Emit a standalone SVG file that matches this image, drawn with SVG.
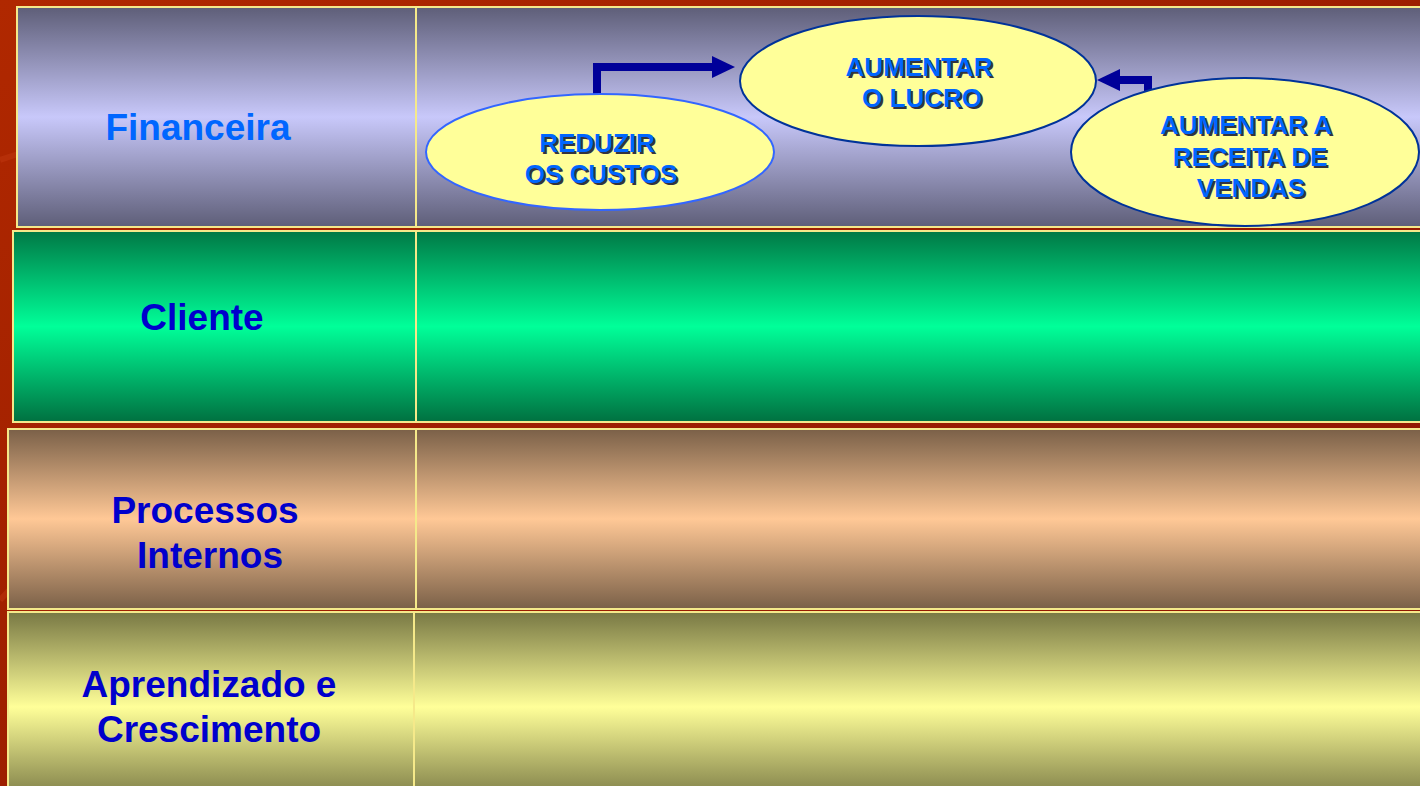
<svg xmlns="http://www.w3.org/2000/svg" width="1420" height="786" viewBox="0 0 1420 786">
<defs>
<linearGradient id="bg" x1="0" y1="0" x2="1" y2="1">
<stop offset="0" stop-color="#b02800"/><stop offset="1" stop-color="#8a1400"/>
</linearGradient>
<linearGradient id="g1" x1="0" y1="0" x2="0" y2="1">
<stop offset="0" stop-color="#5e5e78"/><stop offset="0.5" stop-color="#c8c8fa"/><stop offset="1" stop-color="#5e5e78"/>
</linearGradient>
<linearGradient id="g2" x1="0" y1="0" x2="0" y2="1">
<stop offset="0" stop-color="#007845"/><stop offset="0.5" stop-color="#00ff99"/><stop offset="1" stop-color="#007040"/>
</linearGradient>
<linearGradient id="g3" x1="0" y1="0" x2="0" y2="1">
<stop offset="0" stop-color="#7a6048"/><stop offset="0.5" stop-color="#ffc896"/><stop offset="1" stop-color="#7a6048"/>
</linearGradient>
<linearGradient id="g4" x1="0" y1="0" x2="0" y2="1">
<stop offset="0" stop-color="#787844"/><stop offset="0.5" stop-color="#ffff99"/><stop offset="1" stop-color="#787844"/>
</linearGradient>
</defs>
<style>
.cell{stroke:#f5e98a;stroke-width:2}
.lbl{font-family:"Liberation Sans",Arial,sans-serif;font-weight:bold;font-size:37px;fill:#0000cc;text-anchor:middle}
.fin{fill:#0066ff}
.ell{fill:#ffff99;stroke-width:2}
.et{font-family:"Liberation Sans",Arial,sans-serif;font-weight:bold;font-size:26px;fill:#0066ff;text-anchor:middle}
.sh{fill:#101030;opacity:0.85}
.conn{fill:none;stroke:#000099;stroke-width:8}
</style>
<rect x="0" y="0" width="1420" height="786" fill="url(#bg)"/>
<path d="M0,160 C60,140 120,120 200,100" stroke="#c03810" stroke-width="6" fill="none" opacity="0.5"/>
<path d="M0,600 C40,560 60,520 120,500" stroke="#c03810" stroke-width="6" fill="none" opacity="0.5"/>

<g id="row-financeira">
<rect class="cell" x="17" y="7" width="1410" height="220" fill="url(#g1)"/>
<line class="cell" x1="416" y1="7" x2="416" y2="227"/>
<text class="lbl fin" x="198" y="140">Financeira</text>
</g>
<g id="row-cliente">
<rect class="cell" x="13" y="231" width="1414" height="191" fill="url(#g2)"/>
<line class="cell" x1="416" y1="231" x2="416" y2="422"/>
<text class="lbl" x="202" y="330">Cliente</text>
</g>
<g id="row-processos">
<rect class="cell" x="8" y="429" width="1419" height="180" fill="url(#g3)"/>
<line class="cell" x1="416" y1="429" x2="416" y2="609"/>
<text class="lbl" x="205" y="523">Processos</text>
<text class="lbl" x="210" y="568">Internos</text>
</g>
<g id="row-aprendizado">
<rect class="cell" x="8" y="612" width="1419" height="190" fill="url(#g4)"/>
<line class="cell" x1="414" y1="612" x2="414" y2="786"/>
<text class="lbl" x="209" y="697">Aprendizado e</text>
<text class="lbl" x="209" y="742">Crescimento</text>
</g>

<g id="connectors">
<path class="conn" d="M597,96 V67 H718" />
<path d="M712,56 L735,67 L712,78 Z" fill="#000099"/>
<path class="conn" d="M1148,92 V80 H1118" />
<path d="M1120,69 L1097,80 L1120,91 Z" fill="#000099"/>
</g>

<g id="node-reduzir">
<ellipse class="ell" cx="600" cy="152" rx="174" ry="58" stroke="#3366ff"/>
<text class="et sh" x="599" y="154">REDUZIR</text>
<text class="et" x="597" y="152">REDUZIR</text>
<text class="et sh" x="603" y="185">OS CUSTOS</text>
<text class="et" x="601" y="183">OS CUSTOS</text>
</g>
<g id="node-lucro">
<ellipse class="ell" cx="918" cy="81" rx="178" ry="65" stroke="#003399"/>
<text class="et sh" x="921" y="78">AUMENTAR</text>
<text class="et" x="919" y="76">AUMENTAR</text>
<text class="et sh" x="924" y="109">O LUCRO</text>
<text class="et" x="922" y="107">O LUCRO</text>
</g>
<g id="node-receita">
<ellipse class="ell" cx="1245" cy="152" rx="174" ry="74" stroke="#003399"/>
<text class="et sh" x="1248" y="136">AUMENTAR A</text>
<text class="et" x="1246" y="134">AUMENTAR A</text>
<text class="et sh" x="1252" y="168">RECEITA DE</text>
<text class="et" x="1250" y="166">RECEITA DE</text>
<text class="et sh" x="1253" y="199">VENDAS</text>
<text class="et" x="1251" y="197">VENDAS</text>
</g>
</svg>
